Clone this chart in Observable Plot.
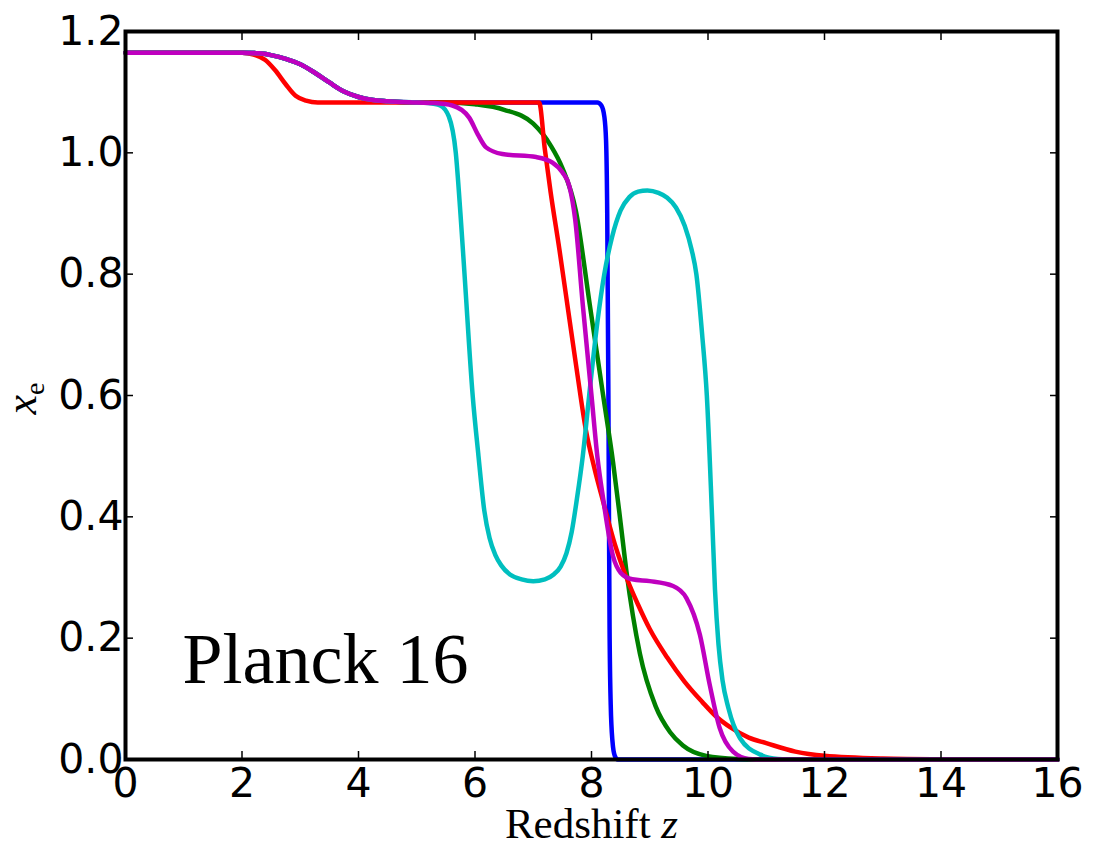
<!DOCTYPE html>
<html><head><meta charset="utf-8">
<script src="https://cdn.jsdelivr.net/npm/d3@7"></script>
<script src="https://cdn.jsdelivr.net/npm/@observablehq/plot@0.6"></script>
<style>body{margin:0;background:#fff}</style>
</head><body><div id="chart"></div>
<script>
// Tick values
const xTicks = [0, 2, 4, 6, 8, 10, 12, 14, 16];
const yTicks = [0, 0.2, 0.4, 0.6, 0.8, 1.0, 1.2];

// Shared helium double-ionisation step for blue/green/cyan/magenta
const heliumStep = [[0,1.165],[2.0,1.165],[2.3,1.164],[2.5,1.161],[2.75,1.155],[3.0,1.146],[3.25,1.132],[3.5,1.116],[3.75,1.101],[4.0,1.092],[4.25,1.087],[4.5,1.085],[5.0,1.083]];

const blue = [...heliumStep, [8.1,1.083],[8.17,1.078],[8.22,1.06],[8.25,1.02],[8.27,0.9],[8.29,0.6],[8.3,0.4],[8.31,0.22],[8.33,0.09],[8.36,0.03],[8.4,0.006],[8.45,0],[16,0]];

const green = [...heliumStep, [5.5,1.083],[6.0,1.08],[6.5,1.071],[7.0,1.048],[7.3,1.012],[7.5,0.975],[7.73,0.905],[7.97,0.75],[8.2,0.6],[8.37,0.49],[8.5,0.39],[8.6,0.31],[8.83,0.175],[9.1,0.088],[9.35,0.045],[9.57,0.023],[9.97,0.006],[10.5,0.001],[11,0],[16,0]];

const red = [[0,1.165],[2.0,1.165],[2.2,1.162],[2.4,1.153],[2.57,1.136],[2.75,1.113],[2.92,1.094],[3.1,1.086],[3.3,1.083],[7.1,1.083],[7.2,1.005],[7.3,0.934],[7.45,0.84],[7.6,0.74],[7.75,0.64],[7.9,0.545],[8.05,0.48],[8.2,0.425],[8.4,0.355],[8.6,0.30],[8.8,0.255],[9.0,0.215],[9.3,0.168],[9.6,0.128],[9.9,0.095],[10.15,0.07],[10.4,0.052],[10.7,0.036],[11.0,0.027],[11.5,0.013],[12,0.006],[13,0.0015],[14,0.0003],[15,0],[16,0]];

const cyan = [...heliumStep, [5.2,1.082],[5.4,1.078],[5.55,1.06],[5.67,1.0],[5.75,0.9],[5.82,0.8],[5.96,0.6],[6.06,0.5],[6.16,0.41],[6.25,0.365],[6.35,0.337],[6.45,0.32],[6.6,0.305],[6.8,0.297],[7.0,0.294],[7.2,0.297],[7.35,0.305],[7.47,0.318],[7.57,0.34],[7.66,0.375],[7.75,0.43],[7.85,0.5],[7.96,0.6],[8.1,0.72],[8.22,0.8],[8.35,0.86],[8.5,0.905],[8.65,0.927],[8.8,0.936],[8.96,0.938],[9.15,0.934],[9.3,0.926],[9.45,0.91],[9.6,0.88],[9.72,0.84],[9.8,0.8],[9.9,0.7],[9.98,0.6],[10.07,0.4],[10.12,0.28],[10.18,0.19],[10.25,0.13],[10.35,0.085],[10.55,0.035],[10.9,0.008],[11.2,0.001],[11.5,0],[16,0]];

const magenta = [...heliumStep, [5.3,1.082],[5.61,1.078],[5.9,1.058],[6.05,1.03],[6.19,1.009],[6.47,0.998],[7.05,0.993],[7.33,0.984],[7.5,0.968],[7.62,0.945],[7.72,0.89],[7.85,0.75],[8.0,0.6],[8.1,0.5],[8.2,0.43],[8.37,0.335],[8.5,0.308],[8.7,0.297],[9.0,0.294],[9.4,0.286],[9.63,0.266],[9.86,0.206],[10.03,0.123],[10.2,0.052],[10.43,0.013],[10.7,0.001],[11,0],[16,0]];

const seriesList = [
  {name: "blue", color: "#0000ff", points: blue},
  {name: "green", color: "#008000", points: green},
  {name: "red", color: "#ff0000", points: red},
  {name: "cyan", color: "#00bfbf", points: cyan},
  {name: "magenta", color: "#bf00bf", points: magenta}
];

const xLabel = "Redshift ";
const xLabelVar = "z";
const yLabelVar = "x";
const yLabelSub = "e";
const annotation = "Planck 16";

const tickOpts = {tickSize: 8, tickFormat: () => "", label: null, strokeWidth: 1.5};

const lineMarks = seriesList.map(s =>
  Plot.line(s.points.map(([z, xe]) => ({z, xe})), {
    x: "z", y: "xe", stroke: s.color, strokeWidth: 4.5, curve: "monotone-x"
  })
);

const chart = Plot.plot({
  width: 1094, height: 845,
  marginLeft: 125, marginRight: 37, marginTop: 31, marginBottom: 86,
  style: {background: "white", fontFamily: "DejaVu Sans", fontSize: "41px", color: "black"},
  x: {domain: [0, 16]},
  y: {domain: [0, 1.2]},
  marks: [
    ...lineMarks,
    Plot.axisX({...tickOpts, ticks: xTicks, anchor: "bottom", dy: -8}),
    Plot.axisX({...tickOpts, ticks: xTicks, anchor: "top", dy: 8}),
    Plot.axisY({...tickOpts, ticks: yTicks, anchor: "left", dx: 8}),
    Plot.axisY({...tickOpts, ticks: yTicks, anchor: "right", dx: -8}),
    Plot.axisX({ticks: xTicks, anchor: "bottom", tickSize: 0, tickPadding: 8, label: null, fontSize: 41, tickFormat: d => String(d)}),
    Plot.axisY({ticks: yTicks, anchor: "left", tickSize: 0, tickPadding: 2, label: null, fontSize: 41, tickFormat: d3.format(".1f")}),
    Plot.text([xLabel], {text: d => d, frameAnchor: "bottom", dy: 78, lineAnchor: "bottom", textAnchor: "middle", fontFamily: "Liberation Serif", fontSize: 43, className: "xlab"}),
    Plot.text([yLabelVar], {text: d => d, frameAnchor: "left", dx: -90, dy: 3, rotate: -90, lineAnchor: "bottom", textAnchor: "middle", fontFamily: "Liberation Serif", fontSize: 44, fontStyle: "italic", className: "ylab"}),
    Plot.text([annotation], {text: d => d, frameAnchor: "bottom-left", dx: 57, dy: -77, lineAnchor: "bottom", textAnchor: "start", fontFamily: "Liberation Serif", fontSize: 72}),
    Plot.frame({stroke: "black", strokeWidth: 4})
  ]
});

// Rich text for axis labels (italic variable, subscript)
const xt = chart.querySelector("g.xlab text");
if (xt) {
  const ts = document.createElementNS("http://www.w3.org/2000/svg", "tspan");
  ts.setAttribute("font-style", "italic");
  ts.textContent = xLabelVar;
  xt.appendChild(ts);
}
const yt = chart.querySelector("g.ylab text");
if (yt) {
  const ts = document.createElementNS("http://www.w3.org/2000/svg", "tspan");
  ts.setAttribute("font-style", "normal");
  ts.setAttribute("font-size", "28");
  ts.setAttribute("dy", "8");
  ts.textContent = yLabelSub;
  yt.appendChild(ts);
}

document.getElementById("chart").appendChild(chart);
</script>
</body></html>
